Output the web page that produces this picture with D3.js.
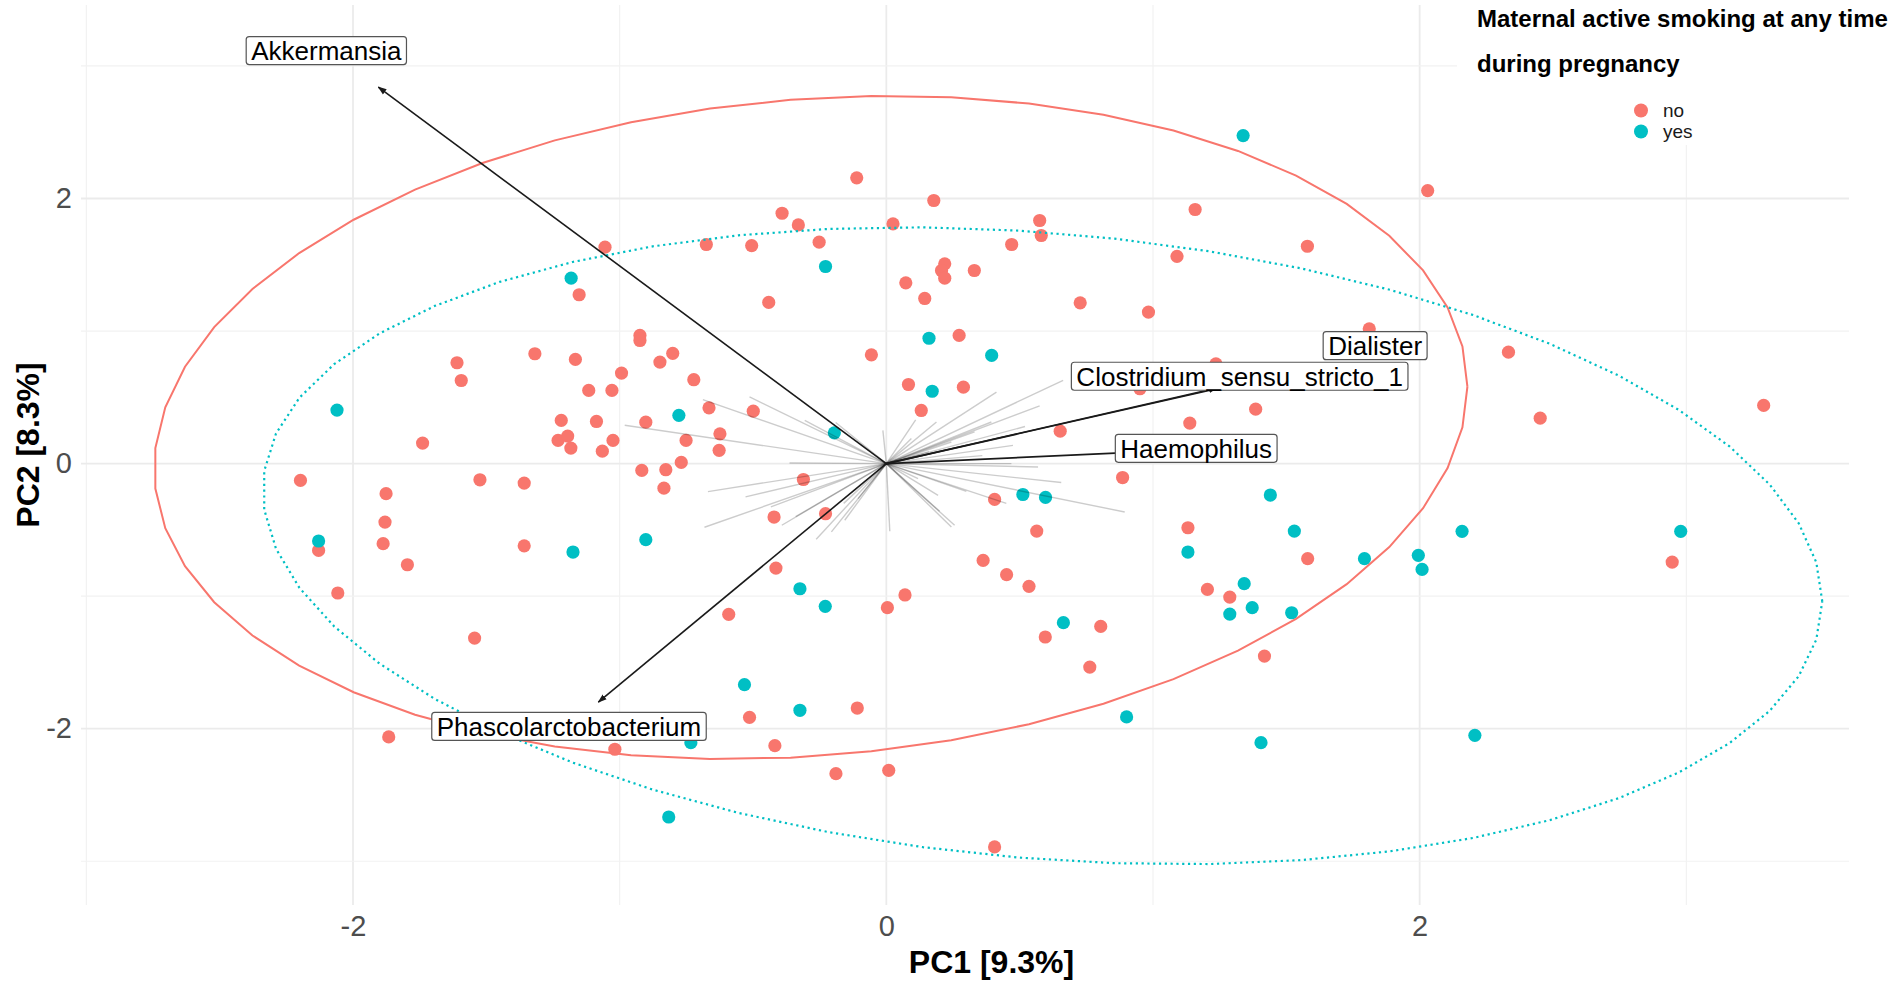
<!DOCTYPE html>
<html>
<head>
<meta charset="utf-8">
<script src="https://cdn.jsdelivr.net/npm/d3@7"></script>
<style>
body { margin: 0; background: #fff; }
svg { display: block; font-family: "Liberation Sans", Arial, Helvetica, sans-serif; }
</style>
</head>
<body>
<div id="chart"></div>
<script>
// PCA scores, one array per group
var noPoints = [
  [-2.197,-0.127],[-2.129,-0.655],[-2.057,-0.976],[-1.876,-0.227],[-1.880,-0.441],[-1.887,-0.604],
  [-1.866,-2.062],[-1.796,-0.763],[-1.739,0.155],[-1.610,0.761],[-1.594,0.627],[-1.524,-0.122],
  [-1.544,-1.316],[-1.358,-0.147],[-1.358,-0.620],[-1.318,0.829],[-1.219,0.326],[-1.231,0.175],
  [-1.195,0.208],[-1.183,0.117],[-1.166,0.786],[-1.152,1.274],[-1.116,0.552],[-1.087,0.318],
  [-1.065,0.094],[-1.055,1.633],[-1.029,0.552],[-1.018,-2.155],[-0.993,0.683],[-1.025,0.175],
  [-0.924,0.967],[-0.924,0.929],[-0.917,-0.051],[-0.902,0.313],[-0.849,0.766],[-0.827,-0.046],
  [-0.834,-0.185],[-0.801,0.832],[-0.751,0.175],[-0.722,0.633],[-0.769,0.009],[-0.665,0.421],
  [-0.624,0.225],[-0.627,0.100],[-0.675,1.653],[-0.591,-1.137],[-0.499,0.396],[-0.505,1.645],
  [-0.513,-1.914],[-0.441,1.216],[-0.421,-0.403],[-0.414,-0.788],[-0.418,-2.128],[-0.391,1.889],
  [-0.330,1.801],[-0.252,1.671],[-0.111,2.156],[-0.228,-0.378],[-0.311,-0.120],[-0.109,-1.844],
  [-0.189,-2.339],[-0.056,0.821],[0.004,-1.087],[0.070,-0.991],[0.009,-2.314],[0.025,1.809],
  [0.073,1.364],[0.083,0.597],[0.131,0.401],[0.144,1.246],[0.178,1.985],[0.219,1.507],
  [0.207,1.457],[0.219,1.399],[0.273,0.967],[0.289,0.577],[0.330,1.457],[0.406,-0.270],
  [0.363,-0.730],[0.451,-0.838],[0.470,1.653],[0.535,-0.926],[0.564,-0.509],[0.575,1.834],
  [0.581,1.721],[0.596,-1.308],[0.763,-1.535],[0.804,-1.228],[0.406,-2.892],[0.727,1.213],
  [0.652,0.245],[0.886,-0.105],[0.951,0.565],[0.983,1.143],[1.090,1.563],[1.131,-0.484],
  [1.158,1.917],[1.138,0.306],[1.204,-0.949],[1.236,0.753],[1.288,-1.007],[1.385,0.411],
  [1.418,-1.452],[1.580,-0.717],[1.579,1.640],[1.811,1.017],[2.030,2.060],[2.333,0.841],
  [2.452,0.343],[2.947,-0.743],[3.290,0.439]
];
var yesPoints = [
  [-2.129,-0.584],[-2.060,0.404],[-1.182,1.399],[-1.175,-0.667],[-0.902,-0.574],[-0.778,0.364],
  [-0.816,-2.666],[-0.733,-2.105],[-0.532,-1.668],[-0.324,-0.944],[-0.324,-1.861],[-0.228,1.487],
  [-0.229,-1.077],[-0.195,0.232],[0.160,0.946],[0.172,0.546],[0.395,0.816],[0.512,-0.233],
  [0.597,-0.255],[0.664,-1.200],[0.901,-1.911],[1.131,-0.667],[1.288,-1.135],[1.342,-0.906],
  [1.372,-1.087],[1.338,2.475],[1.440,-0.237],[1.405,-2.105],[1.530,-0.509],[1.520,-1.125],
  [1.793,-0.717],[1.995,-0.692],[2.009,-0.798],[2.159,-0.511],[2.207,-2.050],[2.979,-0.511]
];
var groups = ["no", "yes"];
var groupColors = ["#F8766D", "#00BFC4"];

// loadings of the unlabelled genera (thin grey lines)
var otherLoadings = [
  [-0.981,0.289],[-0.688,0.483],[-0.513,0.503],[-0.306,0.327],[-0.363,0.005],[-0.669,-0.211],
  [-0.528,-0.251],[-0.682,-0.480],[-0.433,-0.327],[-0.392,-0.465],[-0.263,-0.570],[-0.206,-0.515],
  [-0.106,-0.264],[-0.013,0.251],[0.013,-0.510],[0.256,-0.465],[0.244,-0.478],[0.194,-0.239],
  [0.656,-0.143],[0.894,-0.365],[0.569,-0.025],[0.469,0.0],[0.119,-0.113],[0.663,0.628],
  [0.413,0.540],[0.575,0.435],[0.188,0.314],[0.394,0.314],[0.475,0.138],[0.244,0.163],
  [0.094,0.189],[0.331,0.239],[-0.156,-0.427],[-0.16,-0.30],[0.30,-0.21],[0.36,0.06],
  [0.16,0.09],[0.20,-0.36],[-0.19,0.31],[0.52,0.28],[-0.34,-0.40],[0.11,0.33],[0.45,-0.30]
];
// labelled genera: arrow tips and where the labels ended up
var taxa = ["Akkermansia", "Phascolarctobacterium", "Dialister", "Clostridium_sensu_stricto_1", "Haemophilus"];
var taxaLoadings = [[-1.905,2.841],[-1.080,-1.799],[1.28,0.583],[1.24,0.570],[0.90,0.083]];
var taxaLabelAt = [[-2.10,3.116],[-1.19,-1.983],[1.833,0.89],[1.325,0.659],[1.162,0.115]];

var xTicks = [-2, 0, 2];
var yTicks = [-2, 0, 2];
var gridValues = [-3, -2, -1, 0, 1, 2, 3];
var xTitle = "PC1 [9.3%]";
var yTitle = "PC2 [8.3%]";
var legendTitle = ["Maternal active smoking at any time", "during pregnancy"];

var width = 1902, height = 983;
var x = d3.scaleLinear().domain([-3.02, 3.61]).range([81, 1849]);
var y = d3.scaleLinear().domain([-3.33, 3.46]).range([905, 5]);

var svg = d3.select("#chart").append("svg")
    .attr("width", width)
    .attr("height", height);

svg.append("rect").attr("width", width).attr("height", height).attr("fill", "#fff");

// grid (minor and major look almost the same here)
var grid = svg.append("g");
grid.selectAll(".vg").data(gridValues).enter().append("line")
    .attr("x1", d => x(d)).attr("x2", d => x(d))
    .attr("y1", y.range()[1]).attr("y2", y.range()[0])
    .attr("stroke", d => d % 2 === 0 ? "#EBEBEB" : "#F2F2F2")
    .attr("stroke-width", d => d % 2 === 0 ? 1.8 : 1.2);
grid.selectAll(".hg").data(gridValues).enter().append("line")
    .attr("y1", d => y(d)).attr("y2", d => y(d))
    .attr("x1", x.range()[0]).attr("x2", x.range()[1])
    .attr("stroke", d => d % 2 === 0 ? "#EBEBEB" : "#F2F2F2")
    .attr("stroke-width", d => d % 2 === 0 ? 1.8 : 1.2);

// robust (multivariate t) centre and scatter, same idea as MASS::cov.trob
function covTrob(pts) {
  var n = pts.length, p = 2, nu = 5;
  var w = pts.map(() => 1);
  var loc = [d3.mean(pts, d => d[0]), d3.mean(pts, d => d[1])];
  var X;
  for (var iter = 0; iter < 25; iter++) {
    var w0 = w.slice();
    X = pts.map(d => [d[0] - loc[0], d[1] - loc[1]]);
    var sw = d3.sum(w), a = 0, b = 0, c = 0;
    X.forEach((v, i) => { a += w[i] * v[0] * v[0] / sw; b += w[i] * v[0] * v[1] / sw; c += w[i] * v[1] * v[1] / sw; });
    var det = a * c - b * b;
    w = X.map(v => {
      var q = (c * v[0] * v[0] - 2 * b * v[0] * v[1] + a * v[1] * v[1]) / det;
      return (nu + p) / (nu + q);
    });
    var sw2 = d3.sum(w);
    loc = [d3.sum(pts, (d, i) => w[i] * d[0]) / sw2, d3.sum(pts, (d, i) => w[i] * d[1]) / sw2];
    if (d3.max(w, (d, i) => Math.abs(d - w0[i])) < 0.01) break;
  }
  var ca = 0, cb = 0, cc = 0;
  X.forEach((v, i) => { ca += w[i] * v[0] * v[0]; cb += w[i] * v[0] * v[1]; cc += w[i] * v[1] * v[1]; });
  return { center: loc, cov: [ca / n, cb / n, cc / n] };
}

// 95% ellipse like stat_ellipse(type = "t"), 51 segments
function ellipsePath(pts) {
  var fit = covTrob(pts);
  var d2 = pts.length - 1;
  var fq = d2 / 2 * (Math.pow(0.05, -2 / d2) - 1);
  var radius = Math.sqrt(2 * fq);
  var u11 = Math.sqrt(fit.cov[0]), u12 = fit.cov[1] / u11, u22 = Math.sqrt(fit.cov[2] - u12 * u12);
  return d3.range(52).map(i => {
    var t = i * 2 * Math.PI / 51;
    var cx = Math.cos(t), sy = Math.sin(t);
    return [fit.center[0] + radius * cx * u11, fit.center[1] + radius * (cx * u12 + sy * u22)];
  });
}

var pointData = noPoints.map(d => ({ x: d[0], y: d[1], g: 0 }))
    .concat(yesPoints.map(d => ({ x: d[0], y: d[1], g: 1 })));

svg.append("g").selectAll("circle")
    .data(pointData)
    .enter().append("circle")
    .attr("cx", d => x(d.x))
    .attr("cy", d => y(d.y))
    .attr("r", 6.6)
    .attr("fill", d => groupColors[d.g]);

var line = d3.line().x(d => x(d[0])).y(d => y(d[1]));
svg.append("path")
    .attr("d", line(ellipsePath(noPoints)))
    .attr("fill", "none").attr("stroke", groupColors[0]).attr("stroke-width", 2);
svg.append("path")
    .attr("d", line(ellipsePath(yesPoints)))
    .attr("fill", "none").attr("stroke", groupColors[1]).attr("stroke-width", 2.2)
    .attr("stroke-dasharray", "2.2 3.6");

// loadings
svg.append("g").selectAll("line")
    .data(otherLoadings)
    .enter().append("line")
    .attr("x1", x(0)).attr("y1", y(0))
    .attr("x2", d => x(d[0])).attr("y2", d => y(d[1]))
    .attr("stroke", "#000").attr("stroke-opacity", 0.2).attr("stroke-width", 1.4);

svg.append("defs").append("marker")
    .attr("id", "head")
    .attr("viewBox", "0 0 10 10")
    .attr("refX", 9).attr("refY", 5)
    .attr("markerWidth", 9).attr("markerHeight", 9)
    .attr("markerUnits", "userSpaceOnUse")
    .attr("orient", "auto")
    .append("path").attr("d", "M0,1.5 L10,5 L0,8.5 Z").attr("fill", "#1a1a1a");

svg.append("g").selectAll("line")
    .data(taxaLoadings)
    .enter().append("line")
    .attr("x1", x(0)).attr("y1", y(0))
    .attr("x2", d => x(d[0])).attr("y2", d => y(d[1]))
    .attr("stroke", "#1a1a1a").attr("stroke-width", 1.6)
    .attr("marker-end", "url(#head)");

// labels with a white box
var labels = svg.append("g").selectAll("g")
    .data(taxa)
    .enter().append("g")
    .attr("transform", (d, i) => "translate(" + x(taxaLabelAt[i][0]) + "," + y(taxaLabelAt[i][1]) + ")");
labels.append("rect");
labels.append("text")
    .attr("text-anchor", "middle")
    .attr("dy", "0.36em")
    .attr("font-size", 26)
    .attr("fill", "#000")
    .text(d => d);
labels.each(function() {
  var g = d3.select(this);
  var w = g.select("text").node().getComputedTextLength() + 10;
  g.select("rect")
    .attr("x", -w / 2).attr("y", -14)
    .attr("width", w).attr("height", 28)
    .attr("rx", 3)
    .attr("fill", "#fff").attr("stroke", "#555").attr("stroke-width", 1.2);
});

// axes
var xAxis = svg.append("g")
    .attr("transform", "translate(0," + y.range()[0] + ")")
    .call(d3.axisBottom(x).tickValues(xTicks).tickSize(0).tickPadding(10).tickFormat(d => String(d)));
var yAxis = svg.append("g")
    .attr("transform", "translate(" + x.range()[0] + ",0)")
    .call(d3.axisLeft(y).tickValues(yTicks).tickSize(0).tickPadding(9).tickFormat(d => String(d)));
[xAxis, yAxis].forEach(a => {
  a.select(".domain").remove();
  a.attr("font-size", 29).attr("font-family", null);
  a.selectAll("text").attr("fill", "#4D4D4D");
});

svg.append("text")
    .attr("x", (x.range()[0] + width) / 2)
    .attr("y", 973)
    .attr("text-anchor", "middle")
    .attr("font-size", 32).attr("font-weight", "bold")
    .text(xTitle);
svg.append("text")
    .attr("transform", "translate(39,445) rotate(-90)")
    .attr("text-anchor", "middle")
    .attr("font-size", 32).attr("font-weight", "bold")
    .text(yTitle);

// legend (sits on a white box over the top right of the panel)
var legend = svg.append("g");
legend.append("rect")
    .attr("x", 1457).attr("y", 0).attr("width", width - 1457).attr("height", 145)
    .attr("fill", "#fff");
legend.selectAll(".lt").data(legendTitle).enter().append("text")
    .attr("x", 1477)
    .attr("y", (d, i) => 27 + i * 45)
    .attr("font-size", 24).attr("font-weight", "bold")
    .text(d => d);
var keys = legend.selectAll(".key").data(groups).enter().append("g")
    .attr("transform", (d, i) => "translate(1641," + (110.5 + i * 21) + ")");
keys.append("circle").attr("r", 7).attr("fill", (d, i) => groupColors[i]);
keys.append("text")
    .attr("x", 22).attr("dy", "0.35em")
    .attr("font-size", 19).attr("fill", "#1a1a1a")
    .text(d => d);
</script>
</body>
</html>
